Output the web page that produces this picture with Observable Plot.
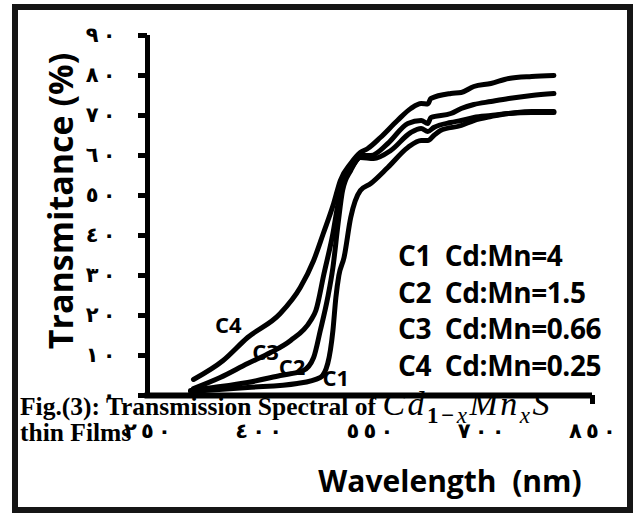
<!DOCTYPE html>
<html>
<head>
<meta charset="utf-8">
<script src="https://cdn.jsdelivr.net/npm/d3@7"></script>
<script src="https://cdn.jsdelivr.net/npm/@observablehq/plot@0.6"></script>
<style>
  html, body { margin: 0; padding: 0; background: #fff; }
  #wrap { position: relative; width: 636px; height: 517px; background: #fff; overflow: hidden; }
  #chart { position: absolute; left: 0; top: 0; }
  #frame { position: absolute; left: 12px; top: 4px; width: 621px; height: 509px; border: 6px solid #151515; box-sizing: border-box; pointer-events: none; }
  .bold-sans { font-family: "Open Sans", "Liberation Sans", sans-serif; font-weight: 700; color: #000; }
  #ytitle { position: absolute; left: 60px; top: 201px; transform: translate(-50%, -50%) rotate(-90deg); white-space: nowrap; font-size: 34px; }
  #xtitle { position: absolute; left: 450px; top: 480px; transform: translate(-50%, -50%); white-space: nowrap; font-size: 30px; }
  #legend { position: absolute; left: 398px; top: 237px; font-size: 28px; line-height: 36.5px; white-space: pre; letter-spacing: -0.4px; }
  #caption { position: absolute; left: 20px; top: 391px; font-family: "Liberation Serif", "Times New Roman", serif; font-weight: 700; font-size: 25.5px; line-height: 26px; color: #000; white-space: nowrap; }
  #caption .math { font-weight: 400; font-style: italic; font-size: 34px; letter-spacing: 2.5px; }
  #caption sub { font-size: 23px; font-style: normal; font-weight: 700; vertical-align: -8px; line-height: 0; }
  #caption sub i { font-style: italic; font-weight: 400; }
</style>
</head>
<body>
<div id="wrap">
  <div id="chart"></div>
  <div id="ytitle" class="bold-sans">Transmitance (%)</div>
  <div id="xtitle" class="bold-sans">Wavelength&nbsp;&nbsp;(nm)</div>
  <div id="legend" class="bold-sans"></div>
  <div id="caption"></div>
  <div id="frame"></div>
</div>
<script>
// ---- data ----
const curveNames = ["C1", "C2", "C3", "C4"];
const legendTexts = ["C1  Cd:Mn=4", "C2  Cd:Mn=1.5", "C3  Cd:Mn=0.66", "C4  Cd:Mn=0.25"];

const wavelengthC1 = [308, 385, 452, 483, 493, 500, 504, 508, 515, 524, 537, 551, 574, 601, 619, 628, 636, 645, 673, 690, 713, 737, 768, 798];
const transC1      = [1, 2, 3, 4.5, 8, 16.25, 24.5, 30, 34.5, 44.5, 51.25, 53, 57, 62, 63.75, 63.75, 65, 66.25, 67.5, 68.75, 69.75, 70.5, 70.75, 70.75];

const wavelengthC2 = [308, 339, 385, 429, 460, 474, 483, 493, 500, 507, 513, 524, 537, 555, 578, 605, 619, 628, 636, 659, 673, 690, 713, 737, 768, 798];
const transC2      = [1.25, 2, 3.25, 5, 6.25, 9.5, 16.25, 24.5, 32, 43, 51.25, 56.25, 59.5, 59.25, 61.25, 65.75, 66.75, 66, 67, 68.25, 68.75, 69.5, 70, 70.5, 71, 71];

const wavelengthC3 = [312, 348, 385, 416, 443, 470, 477, 488, 500, 507, 513, 527, 540, 551, 574, 601, 619, 628, 632, 659, 673, 690, 713, 737, 768, 798];
const transC3      = [1.75, 4.5, 8, 10.75, 13.75, 18.75, 21.25, 30.5, 40.5, 48, 52.5, 57.5, 60, 60, 63, 68, 68.75, 68, 69.5, 70.5, 71.75, 72.75, 73.5, 74.25, 75, 75.5];

const wavelengthC4 = [312, 352, 385, 429, 456, 474, 487, 501, 510, 524, 537, 547, 564, 587, 605, 619, 628, 632, 659, 673, 690, 713, 737, 768, 798];
const transC4      = [4, 8.75, 14.5, 20.5, 27, 33.75, 40.5, 48, 53.75, 58, 60.75, 61.75, 64.5, 68.75, 71.75, 73, 72.9, 74.25, 75.5, 75.75, 77.25, 78, 79.25, 79.75, 80];

// curve label anchors (nm, %)
const curveLabelX = [504, 445, 409, 359];
const curveLabelY = [4.25, 7, 10.75, 17.5];

const xTicks = [250, 400, 550, 700, 850];
const xTickLabels = ["٢٥٠", "٤٠٠", "٥٥٠", "٧٠٠", "٨٥٠"];
const yTicks = [0, 10, 20, 30, 40, 50, 60, 70, 80, 90];
const yTickLabels = ["٠", "١٠", "٢٠", "٣٠", "٤٠", "٥٠", "٦٠", "٧٠", "٨٠", "٩٠"];

// ---- build tables ----
const wl = [wavelengthC1, wavelengthC2, wavelengthC3, wavelengthC4];
const tr = [transC1, transC2, transC3, transC4];
const rows = curveNames.flatMap((name, i) => wl[i].map((w, j) => ({curve: name, wavelength: w, T: tr[i][j]})));
const labelRows = curveNames.map((name, i) => ({name, x: curveLabelX[i], y: curveLabelY[i]}));
// widen digit spacing while keeping left-to-right digit order
const spaced = s => "\u200E" + [...s].join("\u200E\u2009\u200E") + "\u200E";

const chart = Plot.plot({
  width: 636,
  height: 517,
  marginLeft: 147,
  marginRight: 44,
  marginTop: 35,
  marginBottom: 122,
  style: {background: "transparent", color: "#000", overflow: "visible"},
  x: {domain: [xTicks[0], xTicks[xTicks.length - 1]]},
  y: {domain: [yTicks[0], yTicks[yTicks.length - 1]]},
  marks: [
    Plot.axisY({ticks: yTicks, tickFormat: d => spaced(yTickLabels[yTicks.indexOf(d)]), tickSize: 9, tickPadding: 23,
      strokeWidth: 5, fontSize: 21, fontWeight: "bold", fontFamily: "DejaVu Sans", label: null}),
    Plot.axisX({ticks: xTicks, tickFormat: d => spaced(xTickLabels[xTicks.indexOf(d)]), tickSize: 0, tickPadding: 28,
      fontSize: 21, fontWeight: "bold", fontFamily: "DejaVu Sans", label: null}),
    Plot.axisX({ticks: [xTicks[xTicks.length - 1]], tickFormat: () => "", tickSize: 9, strokeWidth: 5, label: null}),
    Plot.ruleX([xTicks[0]], {strokeWidth: 5, stroke: "#000"}),
    Plot.ruleY([yTicks[0]], {strokeWidth: 6, stroke: "#000", insetLeft: -2.5}),
    Plot.line(rows, {x: "wavelength", y: "T", z: "curve", stroke: "#000", strokeWidth: 5,
      curve: "monotone-x", strokeLinecap: "round", strokeLinejoin: "round"}),
    Plot.text(labelRows, {x: "x", y: "y", text: "name", fontSize: 22, fontWeight: "bold",
      fontFamily: "Open Sans", fill: "#000"})
  ]
});
document.getElementById("chart").append(chart);

document.getElementById("legend").textContent = legendTexts.join("\n");
document.getElementById("caption").innerHTML =
  'Fig.(3): Transmission Spectral of <span class="math">Cd<sub>1−<i>x</i></sub>Mn<sub><i>x</i></sub>S</span><br>thin Films';
</script>
</body>
</html>
